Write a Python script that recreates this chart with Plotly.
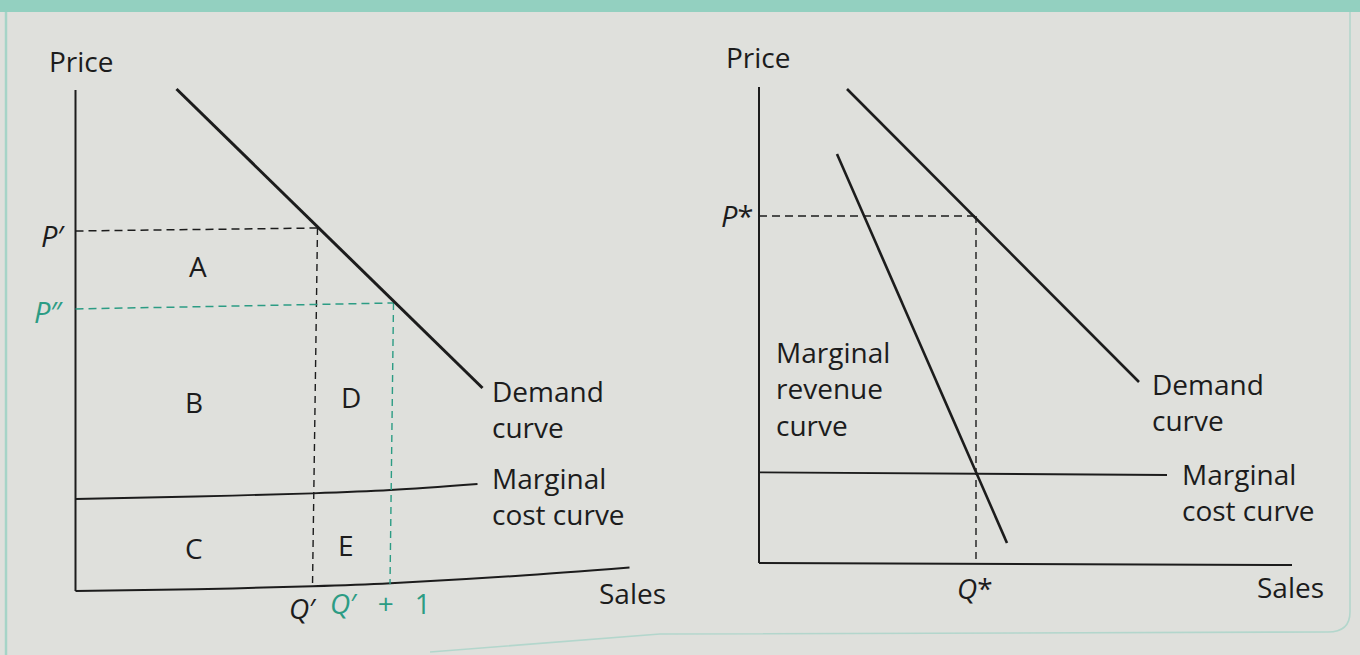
import plotly.graph_objects as go

# ---------------- data (diagram units) ----------------
# Left panel: effect of selling one more unit
left_price_axis_x = [0, 0]
left_price_axis_y = [0, 50.1]
left_sales_axis_x = [0, 12, 23.7, 31.5, 44, 55.4]
left_sales_axis_y = [0, 0.18, 0.47, 0.77, 1.5, 2.34]
left_mc_x = [0, 12, 23.7, 31.5, 40.2]
left_mc_y = [9.2, 9.45, 9.77, 10.1, 10.7]
left_demand_x = [10.1, 40.7]
left_demand_y = [50.2, 20.3]
q_prime = [24.2, 23.7]          # top, bottom of Q' guide
p_prime = [36.0, 36.3]          # left, right of P' guide
q_prime1 = [31.8, 31.45]        # top, bottom of Q'+1 guide
p_dprime = [28.2, 28.8]         # left, right of P'' guide
area_labels = ["A", "B", "C", "D", "E"]
area_x = [12.2, 11.8, 11.8, 27.5, 27.0]
area_y = [32.5, 18.9, 4.3, 19.4, 4.6]

# Right panel: monopoly optimum
right_price_axis_x = [0, 0]
right_price_axis_y = [0, 47.6]
right_sales_axis_x = [0, 53.3]
right_sales_axis_y = [0, -0.2]
right_mc_x = [0, 40.8]
right_mc_y = [9.07, 8.8]
right_demand_x = [8.8, 38.0]
right_demand_y = [47.4, 18.1]
right_mr_x = [7.8, 24.8]
right_mr_y = [40.9, 2.0]
q_star = 21.7
p_star = 34.7

# ---------------- styling ----------------
BG = "#dfe0dc"
INK = "#1c1c1c"
TEAL = "#2c9c84"
FONT = "Open Sans"
W, H = 1360, 655

fig = go.Figure()


def line(x, y, xa, ya, width, color=INK, dash=None, shape="linear"):
    fig.add_trace(go.Scatter(
        x=x, y=y, mode="lines", xaxis=xa, yaxis=ya, hoverinfo="skip",
        showlegend=False, line=dict(color=color, width=width, dash=dash, shape=shape)))


# left panel
line(left_price_axis_x, left_price_axis_y, "x", "y", 2.0)
line(left_sales_axis_x, left_sales_axis_y, "x", "y", 2.0, shape="spline")
line(left_mc_x, left_mc_y, "x", "y", 1.8, shape="spline")
line([0, q_prime[0]], p_prime, "x", "y", 1.5, dash="8px,5px")
line(q_prime, [p_prime[1], left_sales_axis_y[2]], "x", "y", 1.4, dash="7px,5px")
line([0, q_prime1[0]], p_dprime, "x", "y", 1.5, color=TEAL, dash="8px,5px")
line(q_prime1, [p_dprime[1], left_sales_axis_y[3] - 0.1], "x", "y", 1.4, color=TEAL, dash="7px,5px")
line(left_demand_x, left_demand_y, "x", "y", 3.0)

# right panel
line(right_price_axis_x, right_price_axis_y, "x2", "y2", 2.0)
line(right_sales_axis_x, right_sales_axis_y, "x2", "y2", 2.0)
line(right_mc_x, right_mc_y, "x2", "y2", 1.8)
line([0, q_star], [p_star, p_star], "x2", "y2", 1.5, dash="8px,5px")
line([q_star, q_star], [p_star, 0], "x2", "y2", 1.4, dash="7px,5px")
line(right_demand_x, right_demand_y, "x2", "y2", 2.6)
line(right_mr_x, right_mr_y, "x2", "y2", 2.6)

ann = []


def text(t, x, y, xr, yr, size=28, color=INK, xanchor="center", align="center"):
    ann.append(dict(text=t, x=x, y=y, xref=xr, yref=yr, showarrow=False,
                    xanchor=xanchor, yanchor="middle", align=align,
                    font=dict(family=FONT, size=size, color=color)))


SP = "\u2002\u2005"
# left labels
text("Price", 0.6, 53.0, "x", "y")
text("<i>P</i>′", -2.3, 35.6, "x", "y", size=29)
text("<i>P</i>″", -2.7, 28.0, "x", "y", size=29, color=TEAL)
for lab, ax_, ay_ in zip(area_labels, area_x, area_y):
    text(lab, ax_, ay_, "x", "y", size=28)
text("Demand<br>curve", 41.4, 18.2, "x", "y", xanchor="left", align="left")
text("Marginal<br>cost curve", 41.4, 9.55, "x", "y", xanchor="left", align="left")
text("<i>Q</i>′", 22.7, -1.7, "x", "y")
text(f"<i>Q</i>′{SP}+{SP}1", 25.2, -1.2, "x", "y", color=TEAL, xanchor="left")
text("Sales", 55.7, -0.2, "x", "y")

# right labels
text("Price", -0.1, 50.6, "x2", "y2")
text("<i>P</i>*", -2.2, 34.8, "x2", "y2", size=29)
text("Marginal<br>revenue<br>curve", 1.5, 17.5, "x2", "y2", xanchor="left", align="left")
text("Demand<br>curve", 39.1, 16.1, "x2", "y2", xanchor="left", align="left")
text("Marginal<br>cost curve", 42.1, 7.1, "x2", "y2", xanchor="left", align="left")
text("<i>Q</i>*", 21.6, -2.5, "x2", "y2")
text("Sales", 53.1, -2.4, "x2", "y2")


# page decorations (teal header band and box border), in paper coordinates
def px(x):
    return x / W


def py(y):
    return 1 - y / H


border = (f"M {px(1350)},{py(12)} L {px(1350)},{py(612)} "
          f"Q {px(1350)},{py(632)} {px(1328)},{py(632)} "
          f"L {px(660)},{py(634)} L {px(430)},{py(652)}")
shapes = [
    dict(type="rect", xref="paper", yref="paper", x0=0, x1=1, y0=py(12), y1=1,
         fillcolor="#93d0c0", line=dict(width=0), layer="below"),
    dict(type="line", xref="paper", yref="paper", x0=px(6), x1=px(6), y0=0, y1=py(12),
         line=dict(color="#a6d4c7", width=2.5), layer="below"),
    dict(type="path", xref="paper", yref="paper", path=border,
         line=dict(color="#b3d6cc", width=1.6), layer="below"),
]

hidden = dict(visible=False, fixedrange=True)
fig.update_layout(
    width=W, height=H, autosize=False,
    margin=dict(l=0, r=0, t=0, b=0, pad=0),
    paper_bgcolor=BG, plot_bgcolor="rgba(0,0,0,0)",
    xaxis=dict(domain=[0, 0.5], range=[-7.55, 60.45], **hidden),
    yaxis=dict(domain=[0, 1], range=[-6.4, 59.1], **hidden),
    xaxis2=dict(domain=[0.5, 1], range=[-7.9, 60.1], **hidden),
    yaxis2=dict(domain=[0, 1], range=[-9.2, 56.3], anchor="x2", **hidden),
    annotations=ann, shapes=shapes,
)

fig.write_html("out.html", config={"displayModeBar": False},
               post_script="document.body.style.margin='0';")
